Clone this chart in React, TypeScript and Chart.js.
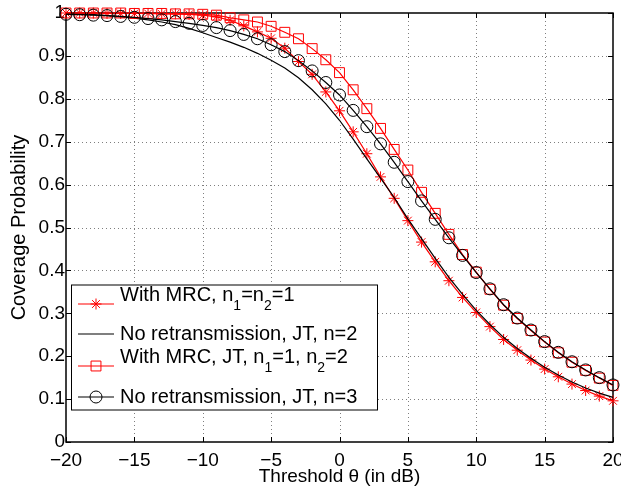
import React, { useEffect, useRef } from 'react';
import { Chart, registerables } from 'chart.js';
import { drawPoint } from 'chart.js/helpers';

Chart.register(...registerables);

// ---------------- data ----------------
const thresholdsDb = [
  -20, -19, -18, -17, -16, -15, -14, -13, -12, -11, -10, -9, -8, -7, -6, -5, -4, -3, -2, -1,
  0, 1, 2, 3, 4, 5, 6, 7, 8, 9, 10, 11, 12, 13, 14, 15, 16, 17, 18, 19, 20,
];

// With MRC, n1=n2=1 (red, star)
const mrcN1N2 = [
  1.0, 1.0, 1.0, 0.999, 0.999, 0.999, 0.999, 0.998, 0.998, 0.997, 0.995, 0.991, 0.983, 0.970, 0.956, 0.941, 0.918, 0.887, 0.857, 0.816,
  0.772, 0.723, 0.672, 0.618, 0.568, 0.516, 0.466, 0.420, 0.376, 0.337, 0.302, 0.269, 0.239, 0.214, 0.191, 0.170, 0.152, 0.135, 0.120, 0.107, 0.096,
];

// No retransmission, JT, n=2 (black line)
const noRetxJtN2 = [
  0.998, 0.997, 0.996, 0.994, 0.991, 0.988, 0.984, 0.979, 0.973, 0.964, 0.954, 0.943, 0.932, 0.920, 0.906, 0.890, 0.872, 0.849, 0.821, 0.788,
  0.750, 0.706, 0.660, 0.615, 0.570, 0.520, 0.474, 0.428, 0.384, 0.344, 0.307, 0.274, 0.244, 0.218, 0.195, 0.174, 0.156, 0.140, 0.126, 0.114, 0.104,
];

// With MRC, JT, n1=1, n2=2 (red, square)
const mrcJtN1N2 = [
  1.0, 1.0, 1.0, 1.0, 1.0, 0.999, 0.999, 0.999, 0.998, 0.998, 0.997, 0.995, 0.989, 0.984, 0.979, 0.969, 0.955, 0.940, 0.917, 0.891,
  0.861, 0.821, 0.777, 0.731, 0.682, 0.634, 0.582, 0.533, 0.484, 0.437, 0.396, 0.356, 0.319, 0.288, 0.260, 0.233, 0.208, 0.186, 0.167, 0.149, 0.132,
];

// No retransmission, JT, n=3 (black, circle)
const noRetxJtN3 = [
  0.997, 0.996, 0.995, 0.994, 0.992, 0.990, 0.987, 0.984, 0.980, 0.976, 0.971, 0.966, 0.959, 0.950, 0.940, 0.926, 0.910, 0.889, 0.865, 0.838,
  0.809, 0.773, 0.735, 0.695, 0.652, 0.607, 0.562, 0.519, 0.476, 0.435, 0.395, 0.357, 0.320, 0.289, 0.261, 0.234, 0.209, 0.187, 0.168, 0.150, 0.133,
];

const xTickValues = [-20, -15, -10, -5, 0, 5, 10, 15, 20];
const yTickValues = [0, 0.1, 0.2, 0.3, 0.4, 0.5, 0.6, 0.7, 0.8, 0.9, 1];

const xTitle = 'Threshold θ (in dB)';
const yTitle = 'Coverage Probability';

type Seg = { t: string; sub?: boolean };
const legendMrc: Seg[] = [{ t: 'With MRC, n' }, { t: '1', sub: true }, { t: '=n' }, { t: '2', sub: true }, { t: '=1' }];
const legendNoRetx2: Seg[] = [{ t: 'No retransmission, JT, n=2' }];
const legendMrcJt: Seg[] = [
  { t: 'With MRC, JT, n' }, { t: '1', sub: true }, { t: '=1, n' }, { t: '2', sub: true }, { t: '=2' },
];
const legendNoRetx3: Seg[] = [{ t: 'No retransmission, JT, n=3' }];

// ---------------- styles ----------------
const RED = '#ff0000';
const BLACK = '#000000';
const FONT = "'Liberation Sans', Arial, Helvetica, sans-serif";

const seriesStyles = [
  { data: mrcN1N2, color: RED, style: 'star', radius: 5.5, order: 4, legend: legendMrc },
  { data: noRetxJtN2, color: BLACK, style: false, radius: 0, order: 3, legend: legendNoRetx2 },
  { data: mrcJtN1N2, color: RED, style: 'rect', radius: 7, order: 2, legend: legendMrcJt },
  { data: noRetxJtN3, color: BLACK, style: 'circle', radius: 6, order: 1, legend: legendNoRetx3 },
];

const minusify = (v: number) => String(v).replace('-', '\u2212');

const matlabPlugin = {
  id: 'matlabFrame',
  beforeDatasetsDraw(chart: any) {
    const { ctx, chartArea: ca, scales } = chart;
    const xs = scales.x;
    const ys = scales.y;
    ctx.save();
    // dotted grid
    ctx.strokeStyle = 'rgba(0,0,0,0.5)';
    ctx.lineWidth = 1;
    ctx.setLineDash([1, 3]);
    for (const v of xTickValues) {
      const px = Math.round(xs.getPixelForValue(v)) + 0.5;
      if (px <= ca.left + 1 || px >= ca.right - 1) continue;
      ctx.beginPath();
      ctx.moveTo(px, ca.top);
      ctx.lineTo(px, ca.bottom);
      ctx.stroke();
    }
    for (const v of yTickValues) {
      const py = Math.round(ys.getPixelForValue(v)) + 0.5;
      if (py <= ca.top + 1 || py >= ca.bottom - 1) continue;
      ctx.beginPath();
      ctx.moveTo(ca.left, py);
      ctx.lineTo(ca.right, py);
      ctx.stroke();
    }
    ctx.setLineDash([]);
    // box
    ctx.strokeStyle = BLACK;
    ctx.lineWidth = 1.5;
    ctx.strokeRect(ca.left, ca.top, ca.right - ca.left, ca.bottom - ca.top);
    // inward ticks
    ctx.lineWidth = 1;
    const tl = 5;
    for (const v of xTickValues) {
      const px = Math.round(xs.getPixelForValue(v)) + 0.5;
      ctx.beginPath();
      ctx.moveTo(px, ca.bottom);
      ctx.lineTo(px, ca.bottom - tl);
      ctx.moveTo(px, ca.top);
      ctx.lineTo(px, ca.top + tl);
      ctx.stroke();
    }
    for (const v of yTickValues) {
      const py = Math.round(ys.getPixelForValue(v)) + 0.5;
      ctx.beginPath();
      ctx.moveTo(ca.left, py);
      ctx.lineTo(ca.left + tl, py);
      ctx.moveTo(ca.right, py);
      ctx.lineTo(ca.right - tl, py);
      ctx.stroke();
    }
    ctx.restore();
  },
  afterDraw(chart: any) {
    const { ctx, chartArea: ca } = chart;
    const boxL = ca.left + 5.5;
    const boxR = boxL + 306;
    const boxB = ca.bottom - 32;
    const boxT = boxB - 125;
    ctx.save();
    ctx.fillStyle = '#ffffff';
    ctx.fillRect(boxL, boxT, boxR - boxL, boxB - boxT);
    ctx.strokeStyle = BLACK;
    ctx.lineWidth = 1;
    ctx.strokeRect(boxL, boxT, boxR - boxL, boxB - boxT);

    const rowY = [19, 49, 81, 112];
    const lineX0 = boxL + 6.5;
    const lineX1 = boxL + 42.5;
    const markX = boxL + 24.5;
    const textX = boxL + 48.5;
    const mainFont = `20px ${FONT}`;
    const subFont = `14px ${FONT}`;

    seriesStyles.forEach((s, i) => {
      const y = boxT + rowY[i];
      ctx.strokeStyle = s.color;
      ctx.lineWidth = 1.2;
      ctx.beginPath();
      ctx.moveTo(lineX0, y);
      ctx.lineTo(lineX1, y);
      ctx.stroke();
      if (s.style) {
        ctx.fillStyle = 'rgba(0,0,0,0)';
        ctx.lineWidth = 1;
        drawPoint(ctx, { pointStyle: s.style as any, radius: s.radius, rotation: 0, borderWidth: 1 } as any, markX, y);
      }
      const hasSub = s.legend.some((g) => g.sub);
      const mainY = hasSub ? y - 9 : y;
      const subY = y + 2;
      let x = textX;
      ctx.fillStyle = BLACK;
      ctx.textBaseline = 'middle';
      ctx.textAlign = 'left';
      for (const g of s.legend) {
        ctx.font = g.sub ? subFont : mainFont;
        ctx.fillText(g.t, x, g.sub ? subY : mainY);
        x += ctx.measureText(g.t).width;
      }
    });
    ctx.restore();
  },
};

export default function App() {
  const canvasRef = useRef<HTMLCanvasElement | null>(null);

  useEffect(() => {
    if (!canvasRef.current) return;
    const datasets = seriesStyles.map((s) => ({
      label: s.legend.map((g) => g.t).join(''),
      data: thresholdsDb.map((x, k) => ({ x, y: s.data[k] })),
      borderColor: s.color,
      backgroundColor: 'rgba(0,0,0,0)',
      borderWidth: 1.2,
      pointStyle: s.style as any,
      pointRadius: s.radius,
      pointBorderColor: s.color,
      pointBackgroundColor: 'rgba(0,0,0,0)',
      pointBorderWidth: 1,
      pointHoverRadius: s.radius,
      tension: 0,
      clip: false as any,
      order: s.order,
    }));

    const chart = new Chart(canvasRef.current, {
      type: 'line',
      data: { datasets },
      options: {
        animation: false,
        responsive: false,
        devicePixelRatio: 1,
        events: [],
        layout: { padding: { left: 0, right: 8, top: 13, bottom: 0 } },
        plugins: { legend: { display: false }, tooltip: { enabled: false } },
        scales: {
          x: {
            type: 'linear',
            min: -20,
            max: 20,
            grid: { display: false, drawTicks: false },
            border: { display: false },
            ticks: {
              stepSize: 5,
              color: BLACK,
              padding: 7,
              font: { family: FONT, size: 19 },
              maxRotation: 0,
              autoSkip: false,
              callback: (v: any) => minusify(Number(v)),
            },
            title: {
              display: true,
              text: xTitle,
              color: BLACK,
              font: { family: FONT, size: 19, lineHeight: 1 },
              padding: { top: 0, bottom: 0 },
            },
            afterFit: (scale: any) => {
              scale.height = 44;
              scale.paddingLeft = 0;
              scale.paddingRight = 0;
            },
          },
          y: {
            type: 'linear',
            min: 0,
            max: 1,
            grid: { display: false, drawTicks: false },
            border: { display: false },
            ticks: {
              stepSize: 0.1,
              color: BLACK,
              padding: 1,
              font: { family: FONT, size: 19 },
              autoSkip: false,
              callback: (v: any) => {
                const n = Number(v);
                if (Math.abs(n) < 1e-9) return '0';
                if (Math.abs(n - 1) < 1e-9) return '1';
                return n.toFixed(1);
              },
            },
            title: {
              display: true,
              text: yTitle,
              color: BLACK,
              font: { family: FONT, size: 20, lineHeight: 1 },
              padding: { top: 9, bottom: 0 },
            },
            afterFit: (scale: any) => {
              scale.width = 66;
              scale.paddingTop = 0;
              scale.paddingBottom = 0;
            },
          },
        },
      },
      plugins: [matlabPlugin],
    });
    return () => chart.destroy();
  }, []);

  return (
    <div style={{ position: 'absolute', left: 0, top: 0, width: 621, height: 486, background: '#fff' }}>
      <canvas ref={canvasRef} width={621} height={486} style={{ display: 'block', width: 621, height: 486 }} />
    </div>
  );
}
